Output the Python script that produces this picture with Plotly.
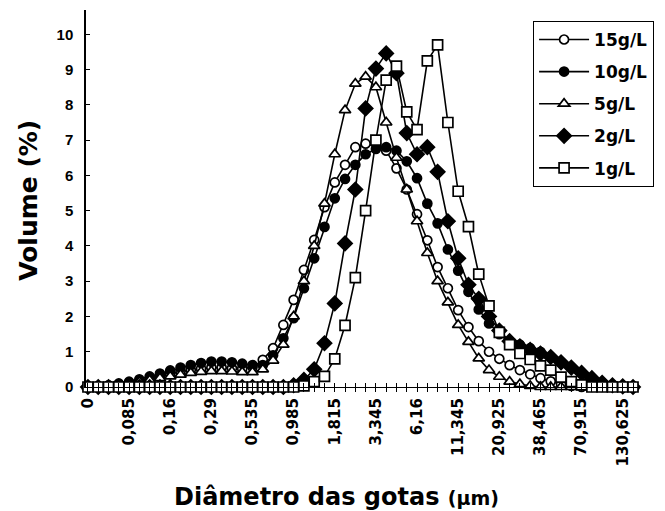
import plotly.graph_objects as go

# Droplet diameter classes (µm); one label every fourth class
tick_labels = ["0", "0,085", "0,16", "0,29", "0,535", "0,985", "1,815",
               "3,345", "6,16", "11,345", "20,925", "38,465", "70,915", "130,625"]
label_step = 4

# Volume (%) per diameter class for each concentration
vol_15 = [0, 0.02, 0.04, 0.08, 0.12, 0.17, 0.23, 0.3, 0.37, 0.43, 0.48, 0.52, 0.55, 0.55,
          0.53, 0.52, 0.56, 0.77, 1.1, 1.76, 2.47, 3.32, 4.17, 5.1, 5.8, 6.3, 6.8, 6.9,
          6.9, 6.7, 6.2, 5.6, 4.9, 4.16, 3.4, 2.8, 2.18, 1.7, 1.3, 1.0, 0.8, 0.62, 0.48,
          0.36, 0.25, 0.16, 0.08, 0.03, 0, 0, 0, 0, 0, 0]
vol_10 = [0, 0.02, 0.05, 0.1, 0.15, 0.22, 0.3, 0.38, 0.47, 0.55, 0.62, 0.68, 0.72, 0.72,
          0.7, 0.66, 0.62, 0.62, 0.9, 1.38, 1.95, 2.8, 3.65, 4.54, 5.35, 5.9, 6.3, 6.6,
          6.75, 6.8, 6.7, 6.4, 5.92, 5.2, 4.64, 3.9, 3.3, 2.7, 2.2, 1.8, 1.5, 1.3, 1.2,
          1.1, 1.0, 0.85, 0.7, 0.55, 0.4, 0.25, 0.12, 0.05, 0.01, 0]
vol_5 = [0, 0.01, 0.03, 0.06, 0.1, 0.14, 0.19, 0.25, 0.3, 0.35, 0.4, 0.43, 0.45, 0.45,
         0.44, 0.42, 0.42, 0.5, 0.75, 1.2, 2.0, 3.0, 4.0, 5.2, 6.6, 7.85, 8.6, 8.8,
         8.5, 7.5, 6.5, 5.6, 4.7, 3.8, 3.0, 2.4, 1.76, 1.28, 0.81, 0.48, 0.29, 0.15, 0.08,
         0.03, 0, 0, 0, 0, 0, 0, 0, 0, 0, 0]
vol_2 = [0, 0, 0, 0, 0, 0, 0, 0, 0, 0, 0, 0, 0, 0, 0, 0, 0, 0, 0, 0,
         0.05, 0.2, 0.5, 1.24, 2.37, 4.07, 5.6, 7.9, 9.03, 9.46, 8.9, 7.2, 6.6, 6.8,
         6.1, 4.7, 3.65, 2.9, 2.5, 2.0, 1.6, 1.3, 1.15, 1.05, 0.95, 0.85, 0.7, 0.55,
         0.4, 0.25, 0.12, 0.05, 0.02, 0]
vol_1 = [0, 0, 0, 0, 0, 0, 0, 0, 0, 0, 0, 0, 0, 0, 0, 0, 0, 0, 0, 0, 0,
         0.03, 0.15, 0.3, 0.8, 1.75, 3.1, 5.0, 7.0, 8.7, 9.1, 7.8, 7.3, 9.25, 9.7,
         7.5, 5.55, 4.55, 3.2, 2.3, 1.55, 1.2, 0.95, 0.78, 0.6, 0.48, 0.28, 0.15, 0.06,
         0, 0, 0, 0, 0]

series_names = ["15g/L", "10g/L", "5g/L", "2g/L", "1g/L"]
series_values = [vol_15, vol_10, vol_5, vol_2, vol_1]

# marker symbol, fill colour, size
marker_styles = {
    "15g/L": ("circle", "white", 9),
    "10g/L": ("circle", "black", 9),
    "5g/L": ("triangle-up", "white", 10),
    "2g/L": ("diamond", "black", 11),
    "1g/L": ("square", "white", 10),
}

n_classes = len(vol_1)
x_idx = list(range(n_classes))
x_range = [-0.19, n_classes - 1 + 0.68]
y_range = [0, 10.69]

fig = go.Figure()
for name, values in zip(series_names, series_values):
    symbol, fill, size = marker_styles[name]
    fig.add_trace(go.Scatter(
        x=x_idx, y=values, name=name, mode="lines+markers",
        line=dict(color="black", width=1.6),
        marker=dict(symbol=symbol, size=size, color=fill,
                    line=dict(color="black", width=1.7)),
        legendgroup=name, cliponaxis=False,
    ))

# Invisible carrier for the inner half of the crossing category ticks
fig.add_trace(go.Scatter(x=[0], y=[0], xaxis="x2", mode="markers",
                         marker=dict(opacity=0), showlegend=False, hoverinfo="skip"))

tick_vals = x_idx
tick_text = [""] * n_classes
for k, lab in enumerate(tick_labels):
    tick_text[k * label_step] = lab

fig.update_layout(
    width=665, height=511, autosize=False,
    margin=dict(l=86, r=25, t=10, b=124),
    paper_bgcolor="white", plot_bgcolor="white",
    showlegend=True,
    legend=dict(x=0.807, y=0.971, xanchor="left", yanchor="top",
                bordercolor="black", borderwidth=1, bgcolor="white",
                font=dict(family="DejaVu Sans", size=17, color="black", weight="bold"),
                itemwidth=50, tracegroupgap=7, traceorder="grouped"),
    xaxis=dict(range=x_range, tickmode="array", tickvals=tick_vals, ticktext=tick_text,
               tickangle=-90, ticks="outside", ticklen=4, tickcolor="black",
               showline=True, linecolor="black", linewidth=1.3,
               showgrid=False, zeroline=False,
               tickfont=dict(family="DejaVu Sans", size=15, color="black", weight="bold")),
    xaxis2=dict(range=x_range, overlaying="x", anchor="y", side="bottom",
                tickmode="array", tickvals=tick_vals, ticks="inside", ticklen=4,
                tickcolor="black", showticklabels=False, showline=False,
                showgrid=False, zeroline=False),
    yaxis=dict(range=y_range, dtick=1, tick0=0, ticks="inside", ticklen=4,
               tickcolor="black", showline=True, linecolor="black", linewidth=1.5,
               showgrid=False, zeroline=False, ticklabelstandoff=8,
               tickfont=dict(family="Arial", size=15, color="black", weight="bold")),
    annotations=[
        dict(text="Volume (%)", textangle=-90, xref="paper", yref="paper",
             x=-0.105, y=0.496, showarrow=False, xanchor="center", yanchor="middle",
             font=dict(family="DejaVu Sans", size=25, color="black", weight="bold")),
        dict(text="Diâmetro das gotas <span style='font-size:19px'>(µm)</span>",
             xref="paper", yref="paper", x=0.453, y=-0.292, showarrow=False,
             xanchor="center", yanchor="middle",
             font=dict(family="DejaVu Sans", size=24, color="black", weight="bold")),
    ],
)

fig.write_html("out.html")
